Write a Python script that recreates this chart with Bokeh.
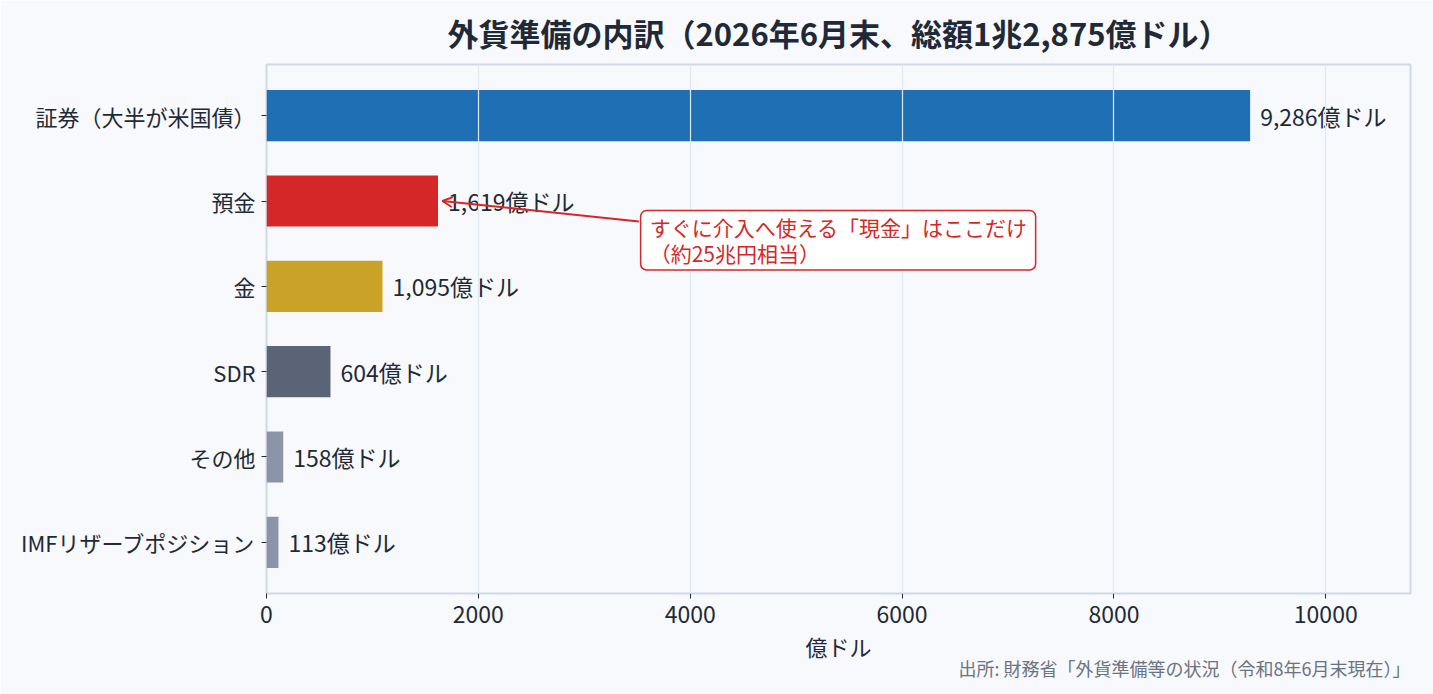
from bokeh.plotting import figure
from bokeh.models import Range1d, FixedTicker, Label, Arrow, OpenHead, Title, ColumnDataSource
from bokeh.core.properties import value
from bokeh.embed import file_html
from bokeh.resources import INLINE

categories = ["証券（大半が米国債）", "預金", "金", "SDR", "その他", "IMFリザーブポジション"]
amounts = [9286, 1619, 1095, 604, 158, 113]
colors = ["#1f6fb4", "#d62728", "#c9a227", "#5b6477", "#8c94a8", "#8c94a8"]
value_labels = ["9,286億ドル", "1,619億ドル", "1,095億ドル", "604億ドル", "158億ドル", "113億ドル"]
x_ticks = [0, 2000, 4000, 6000, 8000, 10000]
title_text = "外貨準備の内訳（2026年6月末、総額1兆2,875億ドル）"
source_text = "出所: 財務省「外貨準備等の状況（令和8年6月末現在）」"
note_text = "すぐに介入へ使える「現金」はここだけ\n（約25兆円相当）"

FONT = "Noto Sans CJK JP"
TXT = "#1f2937"
BG = "#f7f9fc"

n = len(categories)
ypos = [n - 1 - i for i in range(n)]

src = ColumnDataSource(dict(y=ypos, v=amounts, c=colors, lab=value_labels))

p = figure(width=1433, height=694, output_backend="svg", toolbar_location=None,
           x_range=Range1d(0, 10800), y_range=Range1d(-0.6, 5.6),
           background_fill_color=BG, border_fill_color=BG,
           min_border_left=266, min_border_right=23, min_border_bottom=101, min_border_top=64)

p.title.text = title_text
p.title.text_font = FONT
p.title.text_font_size = "31px"
p.title.text_font_style = "bold"
p.title.text_color = TXT
p.title.align = "center"
p.title.vertical_align = "top"
p.title.offset = -8
p.title.standoff = 16

p.hbar(y="y", right="v", left=0, height=0.6, color="c", source=src, line_color=None)
p.text(x="v", y="y", text="lab", source=src, x_offset=10, text_baseline="middle",
       text_align="left", text_font=value(FONT), text_font_size="23px", text_color=TXT)

p.outline_line_color = "#cfd9e4"
p.outline_line_width = 2

p.xgrid.grid_line_color = "#e2e8f0"
p.xgrid.grid_line_width = 1.2
p.xgrid.level = "guide"
p.ygrid.grid_line_color = None

p.xaxis.ticker = FixedTicker(ticks=x_ticks)
p.yaxis.ticker = FixedTicker(ticks=ypos)
p.yaxis.major_label_overrides = {ypos[i]: categories[i] for i in range(n)}
for ax in (p.xaxis[0], p.yaxis[0]):
    ax.axis_line_color = None
    ax.major_tick_line_color = "#1f2937"
    ax.major_tick_in = 0
    ax.major_tick_out = 5
    ax.minor_tick_line_color = None
    ax.major_label_text_font = FONT
    ax.major_label_text_color = TXT
    ax.major_label_standoff = 6
p.yaxis.major_label_text_font_size = "22px"
p.xaxis.major_label_text_font_size = "23px"
p.xaxis.major_label_standoff = 7
p.xaxis.axis_label = "億ドル"
p.xaxis.axis_label_text_font = FONT
p.xaxis.axis_label_text_font_size = "22px"
p.xaxis.axis_label_text_font_style = "normal"
p.xaxis.axis_label_text_color = TXT
p.xaxis.axis_label_standoff = 4

p.add_layout(Title(text=source_text, align="right", vertical_align="top",
                   text_font=FONT, text_font_size="18px", text_font_style="normal",
                   text_color="#6b7280", standoff=-20), "below")

p.add_layout(Arrow(end=OpenHead(size=10, line_color="#d62728", line_width=2),
                   x_start=3515, y_start=3.76, x_end=1660, y_end=4.0,
                   line_color="#d62728", line_width=2))

p.add_layout(Label(x=3532, y=3.89, text=note_text,
                   text_font=FONT, text_font_size="21px", text_color="#d62728",
                   text_align="left", text_baseline="top", text_line_height=0.85,
                   background_fill_color="#ffffff", border_line_color="#d62728",
                   border_line_width=1.5, padding=dict(left=9, right=8, top=2, bottom=2),
                   border_radius=6))

open("out.html", "w").write(file_html(p, INLINE))
